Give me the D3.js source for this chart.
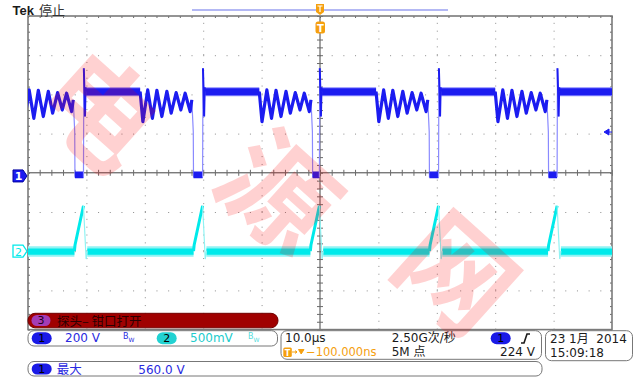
<!DOCTYPE html>
<html>
<head>
<meta charset="utf-8">
<script src="https://cdn.jsdelivr.net/npm/d3@7"></script>
<style>
  body { margin: 0; background: #fff; }
  svg { display: block; font-family: "DejaVu Sans", "Noto Sans CJK SC", sans-serif; }
</style>
</head>
<body>
<svg id="scope" width="643" height="378"></svg>
<script>
// scope settings
const timeDivUs = 10, ch1VoltsDiv = 200, ch2MilliVoltsDiv = 500;
const ch1OffsetDiv = -0.08, ch2OffsetDiv = -2;
const trigLevelV = 224;

// drain voltage (ch1): rising edge times, first one is just off screen
const ch1RiseUs = [-60.8, -40.5, -20.1, -0.1, 20.3, 40.6];
// one switching cycle, [µs after rising edge, volts]
const ch1Spike = [[0, -5], [0.06, 549], [0.16, 440], [0.26, 303], [0.36, 452], [0.46, 430]];
const ch1FlatUs = [0.46, 9.7];
const ch1FlatBand = [412, 447];
const ch1Ring = [[9.7, 430], [10.17, 277], [11.0, 439], [11.8, 294], [12.57, 437], [13.42, 303],
                 [14.28, 432], [15.02, 320], [15.87, 425], [16.67, 337], [17.41, 422], [18.27, 328],
                 [18.55, 388], [18.8, 226]];
const ch1DropUs = 18.84;
const ch1LowBand = [-12, 22];

// current sense (ch2), [µs relative to ch1 rising edge, mV]
const ch2Ramp = [[-1.55, 0], [-1.45, 79], [0, 580]];
const ch2Fall = [[0, 580], [0.45, -100], [0.65, 0]];
const ch2Band = [-45, 35];
const ch2Fuzz = [-72, 62];

const watermark = ["电", "源", "网"];

const svg = d3.select("#scope");
const L = 28, R = 612, T = 16, B = 329.6;
const blue = "#1c1cf0", blueLt = "#8a8aff", cyan = "#00eaea", cyanLt = "#90f3f3", orange = "#f5a00f";

const xDiv = d3.scaleLinear().domain([-5, 5]).range([L, R]);
const yDiv = d3.scaleLinear().domain([-4, 4]).range([B, T]);
const x = d3.scaleLinear().domain([-5 * timeDivUs, 5 * timeDivUs]).range([L, R]);
const y1 = d3.scaleLinear().domain([(-4 - ch1OffsetDiv) * ch1VoltsDiv, (4 - ch1OffsetDiv) * ch1VoltsDiv]).range([B, T]);
const y2 = d3.scaleLinear().domain([(-4 - ch2OffsetDiv) * ch2MilliVoltsDiv, (4 - ch2OffsetDiv) * ch2MilliVoltsDiv]).range([B, T]);

// graticule
svg.append("g").attr("transform", `translate(0,${B})`)
  .call(d3.axisBottom(xDiv).tickValues([-4, -3, -2, -1, 1, 2, 3, 4]).tickSize(-(B - T)).tickFormat(""))
  .call(g => g.select(".domain").remove())
  .selectAll("line").attr("stroke", "#8c8c8c").attr("stroke-dasharray", "1 6.84");
svg.append("g").attr("transform", `translate(${L},0)`)
  .call(d3.axisLeft(yDiv).tickValues([-3, -2, -1, 1, 2, 3]).tickSize(-(R - L)).tickFormat(""))
  .call(g => g.select(".domain").remove())
  .selectAll("line").attr("stroke", "#8c8c8c").attr("stroke-dasharray", "1 10.68");

const minorX = d3.range(-5, 5.01, 0.2), minorY = d3.range(-4, 4.01, 0.2);
const tickStyle = g => { g.select(".domain").remove(); g.selectAll("line").attr("stroke", "#6a6a6a"); };
// centre cross
svg.append("line").attr("x1", L).attr("x2", R).attr("y1", yDiv(0)).attr("y2", yDiv(0)).attr("stroke", "#444");
svg.append("line").attr("x1", xDiv(0)).attr("x2", xDiv(0)).attr("y1", T).attr("y2", B).attr("stroke", "#444");
svg.append("g").attr("transform", `translate(0,${yDiv(0)})`).call(d3.axisBottom(xDiv).tickValues(minorX).tickSize(3).tickFormat("")).call(tickStyle);
svg.append("g").attr("transform", `translate(0,${yDiv(0)})`).call(d3.axisTop(xDiv).tickValues(minorX).tickSize(3).tickFormat("")).call(tickStyle);
svg.append("g").attr("transform", `translate(${xDiv(0)},0)`).call(d3.axisLeft(yDiv).tickValues(minorY).tickSize(3).tickFormat("")).call(tickStyle);
svg.append("g").attr("transform", `translate(${xDiv(0)},0)`).call(d3.axisRight(yDiv).tickValues(minorY).tickSize(3).tickFormat("")).call(tickStyle);
// border ticks
svg.append("g").attr("transform", `translate(0,${T})`).call(d3.axisBottom(xDiv).tickValues(minorX).tickSize(2).tickFormat("")).call(tickStyle);
svg.append("g").attr("transform", `translate(${L},0)`).call(d3.axisRight(yDiv).tickValues(minorY).tickSize(2).tickFormat("")).call(tickStyle);
svg.append("g").attr("transform", `translate(${R},0)`).call(d3.axisLeft(yDiv).tickValues(minorY).tickSize(2).tickFormat("")).call(tickStyle);
svg.append("rect").attr("x", L).attr("y", T).attr("width", R - L).attr("height", B - T)
  .attr("fill", "none").attr("stroke", "#7a7a7a").attr("stroke-width", 1.6);

// traces
svg.append("clipPath").attr("id", "grat").append("rect")
  .attr("x", L).attr("y", T).attr("width", R - L).attr("height", B - T);
const tr = svg.append("g").attr("clip-path", "url(#grat)");

const line1 = r => d3.line().x(d => x(r + d[0])).y(d => y1(d[1]));
const line2 = r => d3.line().x(d => x(r + d[0])).y(d => y2(d[1]));
const band = (ys) => d3.area().x(d => x(d)).y0(ys[0]).y1(ys[1]);

// ch2: noise band between ramps, then ramps
ch1RiseUs.forEach((r, i) => {
  const next = i + 1 < ch1RiseUs.length ? ch1RiseUs[i + 1] : 5.5 * timeDivUs;
  const span = [r + ch2Fall[2][0], next + ch2Ramp[0][0]];
  tr.append("path").attr("d", band([y2(ch2Fuzz[0]), y2(ch2Fuzz[1])])(span)).attr("fill", cyanLt);
  tr.append("path").attr("d", band([y2(ch2Band[0]), y2(ch2Band[1])])(span)).attr("fill", cyan);
  tr.append("path").attr("d", line2(r)(ch2Ramp)).attr("fill", "none").attr("stroke", cyan)
    .attr("stroke-width", 3).attr("stroke-linejoin", "round");
  tr.append("path").attr("d", line2(r)(ch2Fall)).attr("fill", "none").attr("stroke", cyanLt).attr("stroke-width", 1.2);
});

// ch1: thin light trace for the fast edges, thick trace for the slow parts
ch1RiseUs.forEach((r, i) => {
  const next = i + 1 < ch1RiseUs.length ? ch1RiseUs[i + 1] : 5.5 * timeDivUs;
  const cyc = ch1Spike.concat(ch1Ring, [[ch1DropUs, -5], [next - r, -5]]);
  const flat = [r + ch1FlatUs[0], r + ch1FlatUs[1]];
  tr.append("path").attr("d", line1(r)(cyc)).attr("fill", "none").attr("stroke", blueLt).attr("stroke-width", 1.2);
  tr.append("path").attr("d", band([y1(ch1FlatBand[0]) + 1, y1(ch1FlatBand[1]) - 1])(flat)).attr("fill", blueLt);
  tr.append("path").attr("d", band([y1(ch1FlatBand[0]), y1(ch1FlatBand[1])])(flat)).attr("fill", blue);
  tr.append("path").attr("d", band([y1(ch1LowBand[0]), y1(ch1LowBand[1])])([r + ch1DropUs, next]))
    .attr("fill", blue);
  tr.append("path").attr("d", line1(r)(ch1Spike.slice(1))).attr("fill", "none").attr("stroke", blue).attr("stroke-width", 2);
  tr.append("path").attr("d", line1(r)(ch1Ring.slice(0, -1))).attr("fill", "none").attr("stroke", blue)
    .attr("stroke-width", 3.2).attr("stroke-linejoin", "round");
});

// channel ground markers and trigger level
const g1 = y1(0), g2 = y2(0);
svg.append("path").attr("d", `M13,${g1 - 6}H23L27,${g1}L23,${g1 + 6}H13Z`).attr("fill", blue).attr("stroke", "#0000a0");
svg.append("text").attr("x", 18.5).attr("y", g1 + 4.5).attr("text-anchor", "middle").attr("font-size", 11).attr("font-weight", 700).attr("fill", "#fff").text("1");
svg.append("path").attr("d", `M13,${g2 - 6}H23L27,${g2}L23,${g2 + 6}H13Z`).attr("fill", "#fff").attr("stroke", cyan).attr("stroke-width", 1.3);
svg.append("text").attr("x", 18.5).attr("y", g2 + 4.5).attr("text-anchor", "middle").attr("font-size", 11).attr("fill", cyan).text("2");
const tl = y1(trigLevelV);
svg.append("path").attr("d", `M604,${tl}L609,${tl - 3}V${tl + 3}Z M609,${tl}H612`).attr("fill", blue).attr("stroke", blue);

// record view and trigger position
svg.append("line").attr("x1", 192).attr("x2", 448).attr("y1", 10).attr("y2", 10).attr("stroke", "#9aa0f0").attr("stroke-width", 1.5);
svg.append("path").attr("d", `M316,4H324V12L320,15L316,12Z`).attr("fill", orange);
svg.append("path").attr("d", `M317.5,6H322.5M320,6V12`).attr("stroke", "#fff").attr("stroke-width", 1.2);
svg.append("rect").attr("x", 315.5).attr("y", 21.5).attr("width", 9.5).attr("height", 12).attr("rx", 2.5).attr("fill", orange);
svg.append("text").attr("x", 320.3).attr("y", 31.5).attr("text-anchor", "middle").attr("font-size", 10).attr("font-weight", 700).attr("fill", "#fff").text("T");

// header
svg.append("text").attr("x", 12.5).attr("y", 15).attr("font-family", "Liberation Sans").attr("font-weight", 700).attr("font-size", 13).attr("fill", "#1a1a1a").text("Tek");
svg.append("text").attr("x", 39).attr("y", 15).attr("font-family", "Noto Sans CJK SC").attr("font-size", 13).attr("fill", "#333").text("停止");

// readout panels
const box = (x0, y0, w, h) => svg.append("rect").attr("x", x0).attr("y", y0).attr("width", w).attr("height", h)
  .attr("rx", 6).attr("fill", "#fff").attr("stroke", "#777");
const pill = (x0, y0, w, h, fill, label, col) => {
  svg.append("rect").attr("x", x0).attr("y", y0).attr("width", w).attr("height", h).attr("rx", h / 2).attr("fill", fill);
  svg.append("text").attr("x", x0 + w / 2).attr("y", y0 + h - 2).attr("text-anchor", "middle").attr("font-size", 11).attr("fill", col).text(label);
};
const txt = (x0, y0, s, col, size = 12, anchor = "start") => svg.append("text").attr("x", x0).attr("y", y0)
  .attr("font-size", size).attr("fill", col).attr("text-anchor", anchor).style("white-space", "pre").text(s);
const bw = (x0, col) => {
  const t = svg.append("text").attr("x", x0).attr("y", 339).attr("font-size", 8).attr("fill", col);
  t.append("tspan").text("B");
  t.append("tspan").attr("dy", 3).attr("font-size", 6).text("W");
};

svg.append("rect").attr("x", 28).attr("y", 313.3).attr("width", 250).attr("height", 14.5).attr("rx", 7)
  .attr("fill", "#a00000").attr("stroke", "#700000");
pill(31.5, 315, 19, 11, "#a43cb4", "3", "#200020");
txt(57, 325.5, "探头– 钳口打开", "#2a0000", 12.5).attr("font-family", "Noto Sans CJK SC");

box(28, 330.7, 249.5, 15.3);
pill(31.7, 332.3, 20, 12, "#1a1ae6", "1", "#000");
txt(65, 342, "200 V", "#2a2ae0");
bw(123, "#2a2ae0");
pill(156.7, 332.3, 20, 12, "#22d2d2", "2", "#000");
txt(190, 342, "500mV", "#22cccc");
bw(248, "#55dddd");

box(281, 330.7, 260.5, 28.6);
txt(285, 342, "10.0µs", "#1a1a1a");
txt(391.7, 342, "2.50G次/秒", "#1a1a1a");
pill(490.7, 332.3, 20, 12, "#1a1ae6", "1", "#000");
svg.append("path").attr("d", "M521,343H524L527,334H530").attr("fill", "none").attr("stroke", "#1a1a1a").attr("stroke-width", 1.6);
svg.append("rect").attr("x", 283.3).attr("y", 347.5).attr("width", 8.5).attr("height", 9.5).attr("rx", 1.5).attr("fill", orange);
txt(287.6, 355.5, "T", "#fff", 8, "middle").attr("font-weight", 700);
svg.append("path").attr("d", "M292,352H297M295.5,350.5L297,352L295.5,353.5M298.5,349.5H304L301.2,354Z").attr("fill", orange).attr("stroke", orange);
txt(306, 356, "−100.000ns", orange, 11.5);
txt(391.7, 356, "5M 点", "#1a1a1a");
txt(535, 356, "224 V", "#1a1a1a", 12, "end");

box(545.5, 330.7, 87, 30);
txt(550, 343, "23 1月  2014", "#1a1a1a");
txt(550, 356.7, "15:09:18", "#1a1a1a");

box(28, 361.5, 514, 14.5);
pill(31.7, 363.5, 20, 11, "#1a1ae6", "1", "#000");
txt(56.7, 373.5, "最大", "#2a2ae0", 12.5).attr("font-family", "Noto Sans CJK SC");
txt(138.3, 373.5, "560.0 V", "#2a2ae0");

// watermark over everything
const wmX = d3.scalePoint().domain(watermark).range([105, 462]);
const wmY = d3.scalePoint().domain(watermark).range([105, 268]);
svg.append("g").selectAll("text").data(watermark).join("text")
  .attr("transform", d => `translate(${wmX(d)},${wmY(d)}) rotate(42)`)
  .attr("text-anchor", "middle").attr("dominant-baseline", "central")
  .attr("font-family", "Noto Sans CJK SC").attr("font-weight", 700).attr("font-size", 112)
  .attr("fill", "rgba(255,0,0,0.18)").text(d => d);
</script>
</body>
</html>
